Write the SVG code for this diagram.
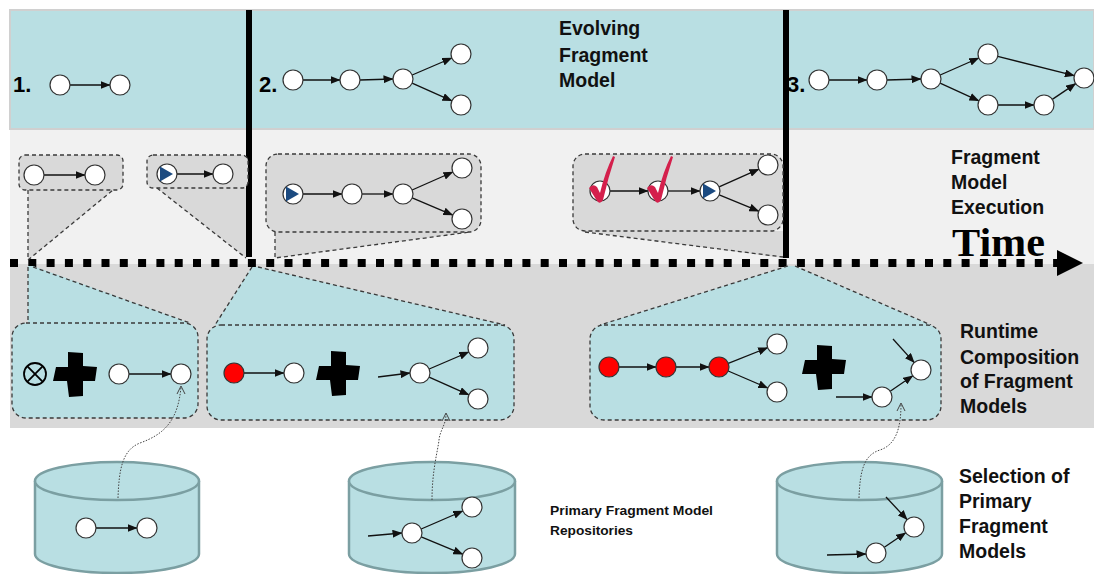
<svg xmlns="http://www.w3.org/2000/svg" width="1094" height="574" viewBox="0 0 1094 574">
<style>
.n{fill:#fff;stroke:#333;stroke-width:1.2}
.r{fill:#ff0000;stroke:#333;stroke-width:1.2}
.c{stroke:#111;stroke-width:1.3;fill:none;marker-end:url(#ah)}
.box{fill:#d9d9d9;stroke:#3a3a3a;stroke-width:1.3;stroke-dasharray:4 3}
.tbox{fill:#b9dfe3;stroke:#3a3a3a;stroke-width:1.3;stroke-dasharray:4 3}
.dl{stroke:#3a3a3a;stroke-width:1.3;stroke-dasharray:4 3;fill:none}
.dot{stroke:#444;stroke-width:1;stroke-dasharray:1.5 1.5;fill:none}
.oh{stroke:#444;stroke-width:1;fill:none}
.lbl{font-family:"Liberation Sans",Arial,sans-serif;font-weight:bold;font-size:19.5px;fill:#111}
.num{font-family:"Liberation Sans",Arial,sans-serif;font-weight:bold;font-size:22px;fill:#000}
.cyl{fill:#b9dfe3;stroke:#7b9fa2;stroke-width:2.5}
.play{fill:#1b4a80}
.chk{fill:#d4204c}
.plus{fill:#000}
</style>
<defs>
<marker id="ah" markerWidth="10" markerHeight="8" refX="9.5" refY="4" orient="auto" markerUnits="userSpaceOnUse"><path d="M0,0 L10,4 L0,8 Z" fill="#111"/></marker>
<path id="plusShape" d="M-7,-22 L8,-21 L8,-8 L22,-7 L20,7 L8,7 L8,22 L-6,23 L-8,7 L-22,7 L-19,-7 L-7,-7 Z"/>
</defs>
<rect width="1094" height="574" fill="#fff"/>
<g id="bands">
<rect x="10" y="129" width="1084" height="135" fill="#f1f1f1"/>
<rect x="10" y="264" width="1084" height="164" fill="#d9d9d9"/>
<rect x="10" y="10" width="1084" height="119" fill="#b9dfe3" stroke="#d0d0d0" stroke-width="2"/>
</g>
<g id="timeline">
<line x1="10" y1="263" x2="1058" y2="263" stroke="#000" stroke-width="8" stroke-dasharray="8 10.3"/>
<path d="M1057,250 L1083,263 L1057,276 Z" fill="#000"/>
<rect x="246" y="10" width="6" height="247" fill="#000"/>
<rect x="783" y="10" width="6" height="248" fill="#000"/>
<text x="952" y="256" font-family="'Liberation Serif','Times New Roman',serif" font-weight="bold" font-size="41" textLength="93" lengthAdjust="spacingAndGlyphs" fill="#000">Time</text>
</g>
<g id="labels" class="lbl">
<text x="559" y="35">Evolving</text>
<text x="559" y="62">Fragment</text>
<text x="559" y="87">Model</text>
<text x="951" y="164">Fragment</text>
<text x="951" y="189">Model</text>
<text x="951" y="214">Execution</text>
<text x="960" y="338">Runtime</text>
<text x="960" y="364">Composition</text>
<text x="960" y="388">of Fragment</text>
<text x="960" y="413">Models</text>
<text x="959" y="483">Selection of</text>
<text x="959" y="508">Primary</text>
<text x="959" y="533">Fragment</text>
<text x="959" y="558">Models</text>
<text x="550" y="515" font-size="12.5" textLength="163" lengthAdjust="spacingAndGlyphs">Primary Fragment Model</text>
<text x="550" y="535" font-size="12.5" textLength="83" lengthAdjust="spacingAndGlyphs">Repositories</text>
</g>
<g id="stage-numbers" class="num">
<text x="13" y="92">1.</text>
<text x="259" y="92">2.</text>
<text x="787" y="92">3.</text>
</g>
<g id="exec-zoom">
<polygon points="28,190 113,190 28,260" fill="#d9d9d9"/>
<polyline class="dl" points="28,190 28,260 113,190"/>
<polygon points="157,188 246,188 246,258" fill="#d9d9d9"/>
<line class="dl" x1="157" y1="188" x2="246" y2="258"/>
<polygon points="275,232 470,232 275,258" fill="#d9d9d9"/>
<polyline class="dl" points="275,232 275,258 470,232"/>
<polygon points="583,231 783,231 783,258" fill="#d9d9d9"/>
<line class="dl" x1="585" y1="232" x2="783" y2="257"/>
</g>
<g id="comp-zoom">
<polygon points="28,266 33,266 190,323 28,323" fill="#b9dfe3"/>
<line class="dl" x1="28" y1="267" x2="28" y2="323"/>
<line class="dl" x1="33" y1="267" x2="190" y2="323"/>
<polygon points="252,267 258,267 505,325 215,325" fill="#b9dfe3"/>
<line class="dl" x1="252" y1="267" x2="215" y2="325"/>
<line class="dl" x1="258" y1="267" x2="505" y2="325"/>
<polygon points="788,266 795,266 931,325 600,325" fill="#b9dfe3"/>
<line class="dl" x1="788" y1="266" x2="600" y2="325"/>
<line class="dl" x1="795" y1="266" x2="931" y2="325"/>
</g>
<g id="exec-box-a"><rect class="box" x="19" y="155" width="104" height="35" rx="6"/></g>
<g id="exec-box-b"><rect class="box" x="147" y="155" width="101" height="33" rx="6"/></g>
<g id="exec-box-c"><rect class="box" x="266" y="154" width="215" height="78" rx="12"/></g>
<g id="exec-box-d"><rect class="box" x="573" y="154" width="210" height="77" rx="12"/></g>
<g id="comp-box-e"><rect class="tbox" x="12" y="323" width="186" height="95" rx="14"/></g>
<g id="comp-box-f"><rect class="tbox" x="207" y="325" width="307" height="95" rx="14"/></g>
<g id="comp-box-g"><rect class="tbox" x="590" y="325" width="351" height="95" rx="14"/></g>
<g id="repo-1">
<path class="cyl" d="M35,481 L35,554 A82,19 0 0 0 199,554 L199,481"/>
<ellipse class="cyl" cx="117" cy="481" rx="82" ry="19"/>
</g>
<g id="repo-2">
<path class="cyl" d="M349,481 L349,554 A83,19 0 0 0 515,554 L515,481"/>
<ellipse class="cyl" cx="432" cy="481" rx="83" ry="19"/>
</g>
<g id="repo-3">
<path class="cyl" d="M777,481 L777,554 A82.5,19 0 0 0 942,554 L942,481"/>
<ellipse class="cyl" cx="859.5" cy="481" rx="82.5" ry="19"/>
</g>
<g id="operators">
<g id="xor-e"><circle cx="35" cy="374" r="11" fill="none" stroke="#000" stroke-width="1.8"/><path d="M27.2,366.2 L42.8,381.8 M42.8,366.2 L27.2,381.8" stroke="#000" stroke-width="1.8"/></g>
<use id="plus-e" href="#plusShape" class="plus" transform="translate(75,374)"/>
<use id="plus-f" href="#plusShape" class="plus" transform="translate(338,373)"/>
<use id="plus-g" href="#plusShape" class="plus" transform="translate(824,367)"/>
</g>
<g id="connectors">
<line class="c" x1="70" y1="85" x2="110" y2="85"/>
<line class="c" x1="303" y1="80" x2="340" y2="80"/>
<line class="c" x1="360" y1="80" x2="393" y2="79"/>
<line class="c" x1="412.2" y1="75" x2="451.8" y2="58"/>
<line class="c" x1="412.1" y1="83.1" x2="451.9" y2="100.9"/>
<line class="c" x1="829" y1="80" x2="867" y2="80"/>
<line class="c" x1="887" y1="80" x2="921" y2="79"/>
<line class="c" x1="940.2" y1="75" x2="978.8" y2="58"/>
<line class="c" x1="940.1" y1="83.2" x2="978.9" y2="100.8"/>
<line class="c" x1="997.7" y1="56.4" x2="1074.3" y2="75.6"/>
<line class="c" x1="998" y1="105" x2="1034" y2="105"/>
<line class="c" x1="1052.3" y1="99.4" x2="1075.7" y2="83.6"/>
<line class="c" x1="44" y1="175" x2="85" y2="175"/>
<line class="c" x1="177" y1="174" x2="213" y2="174"/>
<line class="c" x1="303" y1="194" x2="342" y2="194"/>
<line class="c" x1="362" y1="194" x2="393" y2="194"/>
<line class="c" x1="412.1" y1="190" x2="452.9" y2="172"/>
<line class="c" x1="412.2" y1="197.9" x2="452.8" y2="215.1"/>
<line class="c" x1="610" y1="191" x2="648" y2="191"/>
<line class="c" x1="668" y1="191" x2="700" y2="191"/>
<line class="c" x1="719.1" y1="186.9" x2="758.9" y2="169.1"/>
<line class="c" x1="719.2" y1="194.8" x2="758.8" y2="211.2"/>
<line class="c" x1="129" y1="374" x2="171" y2="374"/>
<line class="c" x1="244" y1="373" x2="284" y2="373"/>
<line class="c" x1="378" y1="377" x2="410" y2="373"/>
<line class="c" x1="429.2" y1="369" x2="468.8" y2="352"/>
<line class="c" x1="429.1" y1="377.1" x2="468.9" y2="394.9"/>
<line class="c" x1="619" y1="367" x2="656" y2="367"/>
<line class="c" x1="676" y1="367" x2="709" y2="367"/>
<line class="c" x1="728.3" y1="363.3" x2="767.7" y2="347.7"/>
<line class="c" x1="728.2" y1="371" x2="767.8" y2="388"/>
<line class="c" x1="893" y1="339" x2="914.3" y2="362.6"/>
<line class="c" x1="836" y1="397" x2="872" y2="397"/>
<line class="c" x1="890.2" y1="391.3" x2="912.8" y2="375.7"/>
<line class="c" x1="96" y1="528" x2="137" y2="528"/>
<line class="c" x1="368" y1="536" x2="402" y2="533"/>
<line class="c" x1="421.2" y1="529" x2="462.8" y2="511"/>
<line class="c" x1="421.2" y1="536.8" x2="462.8" y2="554.2"/>
<line class="c" x1="827" y1="555" x2="866" y2="554"/>
<line class="c" x1="884.3" y1="547.3" x2="905.7" y2="532.7"/>
<line class="c" x1="886" y1="497" x2="907.2" y2="519.7"/>
<path class="dot" d="M118,498 C119,470 122,450 140,443 C165,434 178,420 181,387"/>
<polyline class="oh" points="177,394 181,386 185,394"/>
<path class="dot" d="M432,500 C432,470 438,450 439,440 C440,430 446,425 446,414"/>
<polyline class="oh" points="442,421 446,413 450,421"/>
<path class="dot" d="M859,498 C860,470 864,455 880,450 C895,445 901,430 901,404"/>
<polyline class="oh" points="897,411 901,403 905,411"/>
</g>
<g id="nodes-stage1"><circle class="n" cx="60" cy="85" r="10"/><circle class="n" cx="120" cy="85" r="10"/></g>
<g id="nodes-stage2"><circle class="n" cx="293" cy="80" r="10"/><circle class="n" cx="350" cy="80" r="10"/><circle class="n" cx="403" cy="79" r="10"/><circle class="n" cx="461" cy="54" r="10"/><circle class="n" cx="461" cy="105" r="10"/></g>
<g id="nodes-stage3"><circle class="n" cx="819" cy="80" r="10"/><circle class="n" cx="877" cy="80" r="10"/><circle class="n" cx="931" cy="79" r="10"/><circle class="n" cx="988" cy="54" r="10"/><circle class="n" cx="988" cy="105" r="10"/><circle class="n" cx="1044" cy="105" r="10"/><circle class="n" cx="1084" cy="78" r="10"/></g>
<g id="nodes-exec-a"><circle class="n" cx="34" cy="175" r="10"/><circle class="n" cx="95" cy="175" r="10"/></g>
<g id="nodes-exec-b"><circle class="n" cx="167" cy="174" r="10"/><path class="play" d="M160,166.5 L160,181.5 L173,174 Z"/><circle class="n" cx="223" cy="174" r="10"/></g>
<g id="nodes-exec-c"><circle class="n" cx="293" cy="194" r="10"/><path class="play" d="M286,186.5 L286,201.5 L299,194 Z"/><circle class="n" cx="352" cy="194" r="10"/><circle class="n" cx="403" cy="194" r="10"/><circle class="n" cx="462" cy="168" r="10"/><circle class="n" cx="462" cy="219" r="10"/></g>
<g id="nodes-exec-d"><circle class="n" cx="600" cy="191" r="10"/><circle class="n" cx="658" cy="191" r="10"/><circle class="n" cx="710" cy="191" r="10"/><path class="play" d="M703,183.5 L703,198.5 L716,191 Z"/><circle class="n" cx="768" cy="165" r="10"/><circle class="n" cx="768" cy="215" r="10"/>
<path class="chk" d="M589,188 Q593,183 597,187 L600,193 Q605,172 613,156 L615,157 Q608,178 603,200 Q600,205 597,201 Z"/>
<path class="chk" d="M647,188 Q651,183 655,187 L658,193 Q663,172 671,156 L673,157 Q666,178 661,200 Q658,205 655,201 Z"/>
</g>
<g id="nodes-comp-e"><circle class="n" cx="119" cy="374" r="10"/><circle class="n" cx="181" cy="374" r="10"/></g>
<g id="nodes-comp-f"><circle class="r" cx="234" cy="373" r="10"/><circle class="n" cx="294" cy="373" r="10"/><circle class="n" cx="420" cy="373" r="10"/><circle class="n" cx="478" cy="348" r="10"/><circle class="n" cx="478" cy="399" r="10"/></g>
<g id="nodes-comp-g"><circle class="r" cx="609" cy="367" r="10"/><circle class="r" cx="666" cy="367" r="10"/><circle class="r" cx="719" cy="367" r="10"/><circle class="n" cx="777" cy="344" r="10"/><circle class="n" cx="777" cy="392" r="10"/><circle class="n" cx="921" cy="370" r="10"/><circle class="n" cx="882" cy="397" r="10"/></g>
<g id="nodes-repo-1"><circle class="n" cx="86" cy="528" r="10"/><circle class="n" cx="147" cy="528" r="10"/></g>
<g id="nodes-repo-2"><circle class="n" cx="412" cy="533" r="10"/><circle class="n" cx="472" cy="507" r="10"/><circle class="n" cx="472" cy="558" r="10"/></g>
<g id="nodes-repo-3"><circle class="n" cx="914" cy="527" r="10"/><circle class="n" cx="876" cy="553" r="10"/></g>
</svg>
